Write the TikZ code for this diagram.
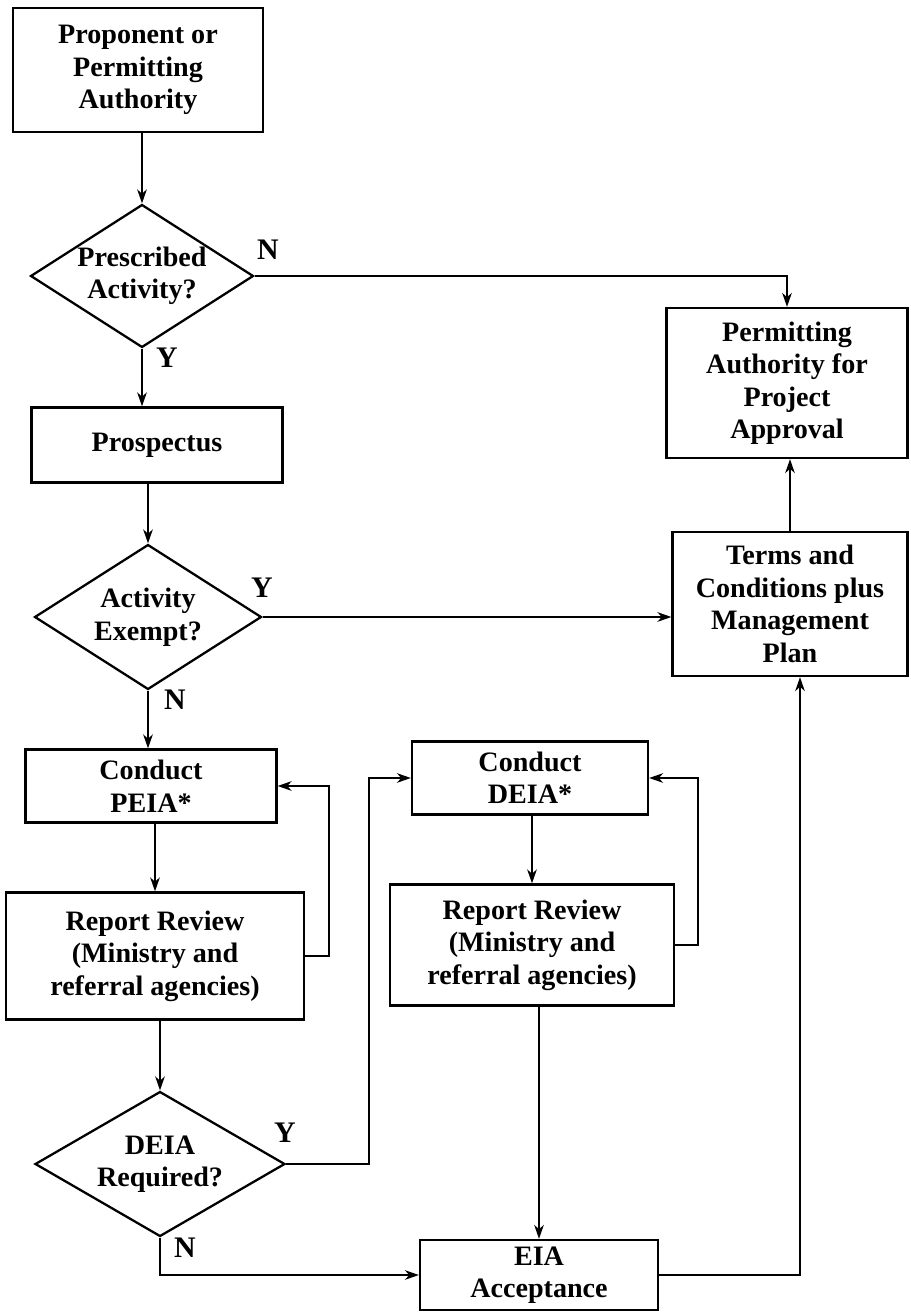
\documentclass[tikz,border=0pt]{standalone}
\usepackage{fontspec}
\setmainfont{Liberation Serif}
\usetikzlibrary{arrows.meta, shapes.geometric}

\begin{document}
\begin{tikzpicture}[
        x=0.02cm, y=-0.02cm,
        % Process boxes: plain rectangle, bold serif text
        process/.style={rectangle, draw=black, line width=1.3pt, fill=white,
            inner sep=2pt, align=center,
            font=\fontsize{16}{18.5}\selectfont\bfseries},
        % Decision nodes: diamond, same text
        decision/.style={diamond, draw=black, line width=1.3pt, fill=white,
            inner sep=0pt, aspect=1.55, align=center,
            font=\fontsize{16}{18.5}\selectfont\bfseries},
        % Y / N branch labels
        branch/.style={font=\fontsize{17}{20}\selectfont\bfseries, inner sep=0pt},
        % Connectors
        flow/.style={draw=black, line width=1.1pt, -{Stealth[length=8pt,width=5.5pt]}},
        ]

        % Page frame (pixel units of the reference)
        \useasboundingbox (0,0) rectangle (910,1314);

        % === Left column: screening ===
        \node[process, minimum width=5cm, minimum height=2.48cm] (prop) at (138,70) {Proponent or\\Permitting\\Authority};
        \node[decision, minimum width=4.46cm, minimum height=2.86cm] (presc) at (142,276) {Prescribed\\Activity?};
        \node[process, minimum width=5.02cm, minimum height=1.5cm] (prosp) at (157,445) {Prospectus};
        \node[decision, minimum width=4.54cm, minimum height=2.9cm] (exempt) at (148,617) {Activity\\Exempt?};
        \node[process, minimum width=5.02cm, minimum height=1.46cm] (peia) at (151,786) {Conduct\\PEIA*};
        \node[process, minimum width=5.96cm, minimum height=2.54cm] (reva) at (155,956) {Report Review\\(Ministry and\\referral agencies)};
        \node[decision, minimum width=5cm, minimum height=2.9cm] (deiareq) at (160,1164) {DEIA\\Required?};

        % === Middle column: detailed EIA ===
        \node[process, minimum width=4.72cm, minimum height=1.46cm] (deia) at (530,778) {Conduct\\DEIA*};
        \node[process, minimum width=5.68cm, minimum height=2.42cm] (revb) at (532,945) {Report Review\\(Ministry and\\referral agencies)};
        \node[process, minimum width=4.76cm, minimum height=1.4cm] (eia) at (539,1275) {EIA\\Acceptance};

        % === Right column: approval ===
        \node[process, minimum width=4.82cm, minimum height=3cm] (perm) at (787,383) {Permitting\\Authority for\\Project\\Approval};
        \node[process, minimum width=4.7cm, minimum height=2.88cm] (terms) at (790,604) {Terms and\\Conditions plus\\Management\\Plan};

        % === Branch labels ===
        \node[branch] (ln1) at (268,250) {N};
        \node[branch] (ly1) at (167,358) {Y};
        \node[branch] (ly2) at (262,588) {Y};
        \node[branch] (ln2) at (175,700) {N};
        \node[branch] (ly3) at (285,1133) {Y};
        \node[branch] (ln3) at (185,1248) {N};

        % === Connectors ===
        \coordinate (yturn) at (369,778);
        \draw[flow] (prop.south -| presc.north) -- (presc.north);
        \draw[flow] (presc.east) -| (perm.north);
        \draw[flow] (presc.south) -- (presc.south |- prosp.north);
        \draw[flow] (prosp.south -| exempt.north) -- (exempt.north);
        \draw[flow] (exempt.east) -- (exempt.east -| terms.west);
        \draw[flow] (exempt.south) -- (exempt.south |- peia.north);
        \draw[flow] (peia.south -| reva.north) -- (reva.north);
        \draw[flow] (reva.east) -- ++(24,0) |- (peia.east);
        \draw[flow] (reva.south -| deiareq.north) -- (deiareq.north);
        \draw[flow] (deiareq.east) -| (yturn) -- (deia.west);
        \draw[flow] (deiareq.south) |- (eia.west);
        \draw[flow] (deia.south -| revb.north) -- (revb.north);
        \draw[flow] (revb.east) -- ++(23,0) |- (deia.east);
        \draw[flow] (revb.south -| eia.north) -- (eia.north);
        \draw[flow] (eia.east) -| ([xshift=0.2cm]terms.south);
        \draw[flow] (terms.north) -- (terms.north |- perm.south);

    \end{tikzpicture}
\end{document}
